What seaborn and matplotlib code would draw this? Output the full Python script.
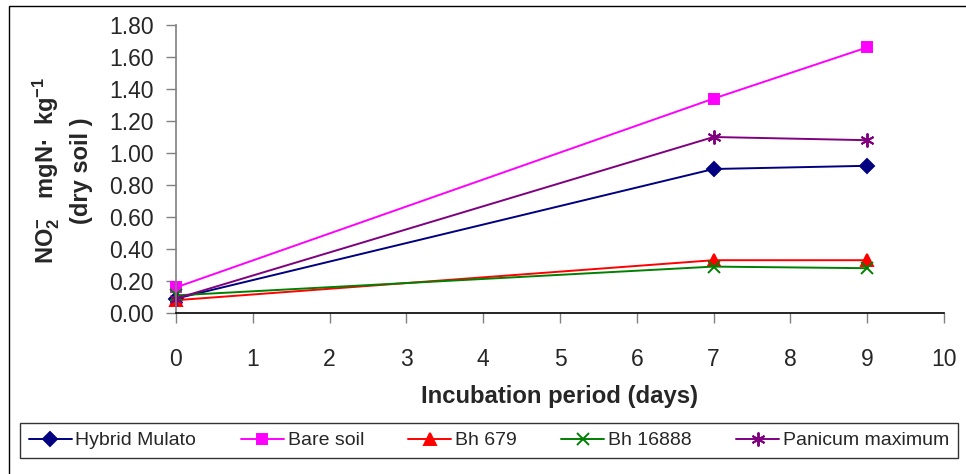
import matplotlib.pyplot as plt
import pandas as pd
import seaborn as sns
from matplotlib.patches import Rectangle

# Data
days = [0, 7, 9]
hybrid_mulato = [0.09, 0.90, 0.92]
bare_soil = [0.16, 1.34, 1.66]
bh_679 = [0.08, 0.33, 0.33]
bh_16888 = [0.11, 0.29, 0.28]
panicum_maximum = [0.09, 1.10, 1.08]

series = ["Hybrid Mulato", "Bare soil", "Bh 679", "Bh 16888", "Panicum maximum"]
values = [hybrid_mulato, bare_soil, bh_679, bh_16888, panicum_maximum]

colors = ["#000080", "#FF00FF", "#FF0000", "#008000", "#800080"]
markers = ["D", "s", "^", "x", (6, 2, 0)]
msizes = [7, 7, 8, 8, 10]

sns.set_style("white")
plt.rcParams["font.family"] = ["Liberation Sans", "DejaVu Sans"]
plt.rcParams["mathtext.fontset"] = "custom"
plt.rcParams["mathtext.rm"] = "Liberation Sans"
plt.rcParams["mathtext.bf"] = "Liberation Sans:bold"
plt.rcParams["mathtext.default"] = "bf"

fig = plt.figure(figsize=(9.66, 4.74), dpi=100)
ax = fig.add_axes([176 / 966, 1 - 313 / 474, 768 / 966, 288 / 474])

handles = []
for name, vals, c, m, ms in zip(series, values, colors, markers, msizes):
    d = pd.DataFrame({"day": days, "value": vals})
    sns.lineplot(data=d, x="day", y="value", color=c, marker=m,
                 markersize=ms, markeredgewidth=1.4, markeredgecolor=c,
                 linewidth=1.4, ax=ax, label=name, legend=False)
    handles.append(ax.lines[-1])

ax.set_xlim(0, 10)
ax.set_ylim(0, 1.8)
ax.set_xticks(range(0, 11))
ax.set_yticks([i * 0.2 for i in range(10)])
ax.set_yticklabels(["%.2f" % (i * 0.2) for i in range(10)])
ax.tick_params(axis="both", labelsize=16.5, length=7, width=1,
               direction="out", color="#808080")
ax.tick_params(axis="x", pad=18)
ax.tick_params(axis="y", pad=9)
ax.tick_params(left=True, bottom=True)

for side in ["top", "right"]:
    ax.spines[side].set_visible(False)
ax.spines["left"].set_color("#808080")
ax.spines["bottom"].set_color("black")
ax.spines["left"].set_linewidth(1.2)
ax.spines["bottom"].set_linewidth(1.2)
for ln in ax.lines:
    ln.set_clip_on(False)

ax.set_xlabel("Incubation period (days)", fontsize=17.2, fontweight="bold",
              labelpad=10)
ax.set_ylabel("NO$_2^{-}$   mgN·  kg$^{-1}$\n(dry soil )", fontsize=17,
              fontweight="bold", linespacing=1.45)
ax.yaxis.set_label_coords(-0.108, 0.495)

# legend beneath the plot
leg = fig.legend(handles, series, loc="center",
                 bbox_to_anchor=(20 / 966, 1 - 458 / 474, 938 / 966, 35 / 474),
                 mode="expand", ncol=5, fontsize=14, frameon=True,
                 fancybox=False, handlelength=2.2, handletextpad=0.2,
                 borderaxespad=0, borderpad=0.45, numpoints=1)
leg.get_frame().set_edgecolor("black")
leg.get_frame().set_linewidth(1)

# chart area border
fig.patches.append(Rectangle((9 / 966, -0.1), 1.2, 1.1 - 6 / 474,
                             transform=fig.transFigure, fill=False,
                             edgecolor="black", linewidth=1))

fig.savefig("out.png", dpi=100)
